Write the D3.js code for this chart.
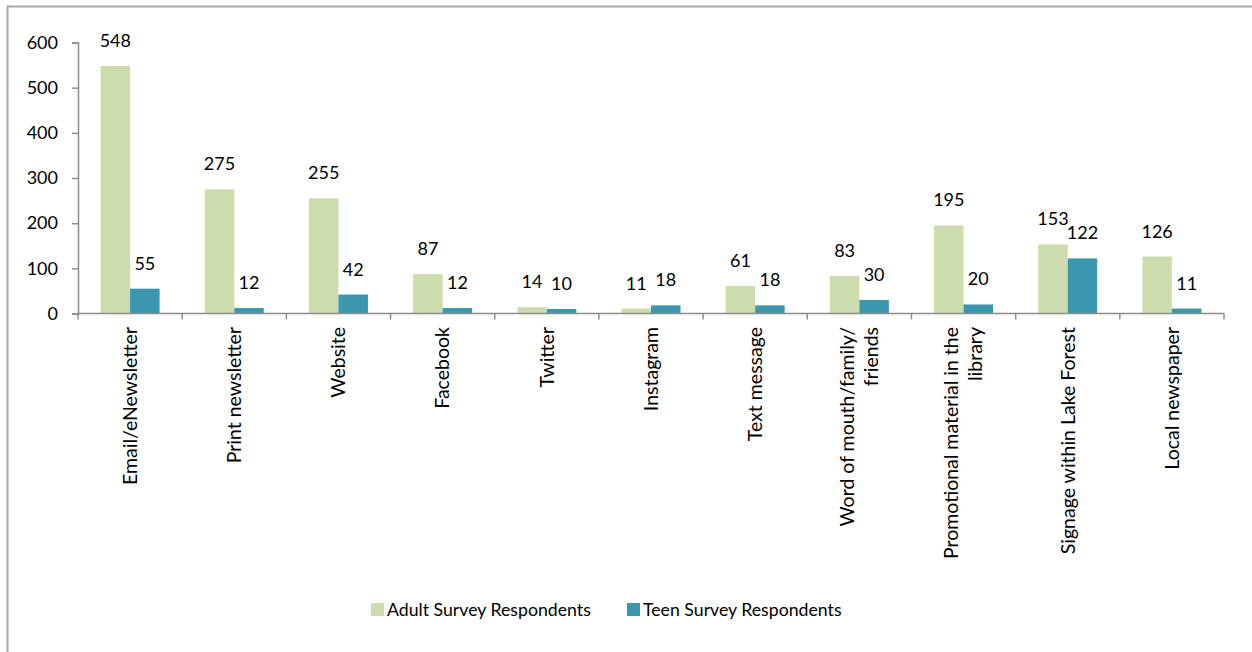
<!DOCTYPE html>
<html>
<head>
<meta charset="utf-8">
<script src="https://cdn.jsdelivr.net/npm/d3@7"></script>
<style>
  html, body { margin: 0; padding: 0; background: #fff; }
  svg { display: block; }
  text { font-family: Lato, "Open Sans", sans-serif; fill: #000; }
</style>
</head>
<body>
<svg id="chart" width="1252" height="652"></svg>
<script>
// Where respondents hear about library news
const categories = [
  "Email/eNewsletter",
  "Print newsletter",
  "Website",
  "Facebook",
  "Twitter",
  "Instagram",
  "Text message",
  "Word of mouth/family/\nfriends",
  "Promotional material in the\nlibrary",
  "Signage within Lake Forest",
  "Local newspaper"
];
const adultValues = [548, 275, 255, 87, 14, 11, 61, 83, 195, 153, 126];
const teenValues  = [55, 12, 42, 12, 10, 18, 18, 30, 20, 122, 11];
const seriesNames = ["Adult Survey Respondents", "Teen Survey Respondents"];
const seriesColors = ["#cddcac", "#3b97ad"];
const yTicks = [0, 100, 200, 300, 400, 500, 600];

const FONT = "Lato, 'Open Sans', sans-serif";
const FS = "18px";

const svg = d3.select("#chart");

// outer chart frame
svg.append("rect")
  .attr("x", 7.5).attr("y", 6.5)
  .attr("width", 1260).attr("height", 660)
  .attr("fill", "none")
  .attr("stroke", "#a6a6a6")
  .attr("stroke-width", 2);

const plot = { left: 78, right: 1224, top: 42.5, bottom: 313.5 };

const x = d3.scaleBand()
  .domain(d3.range(categories.length))
  .range([plot.left, plot.right])
  .paddingInner(0).paddingOuter(0);

const y = d3.scaleLinear()
  .domain([0, 600])
  .range([plot.bottom, plot.top]);

const inner = d3.scaleBand()
  .domain([0, 1])
  .range([0, x.bandwidth()])
  .paddingOuter(0.766)
  .paddingInner(0);

const series = [adultValues, teenValues];

// bars
series.forEach((vals, s) => {
  svg.append("g")
    .selectAll("rect")
    .data(vals)
    .join("rect")
    .attr("x", (d, i) => x(i) + inner(s))
    .attr("width", inner.bandwidth())
    .attr("y", d => y(d))
    .attr("height", d => y(0) - y(d))
    .attr("fill", seriesColors[s]);
});

// value labels
series.forEach((vals, s) => {
  svg.append("g")
    .selectAll("text")
    .data(vals)
    .join("text")
    .attr("x", (d, i) => x(i) + inner(s) + inner.bandwidth() / 2)
    .attr("y", d => y(d) - 19)
    .attr("text-anchor", "middle")
    .style("font-size", FS)
    .text(d => d);
});

// y axis
const yAxis = d3.axisLeft(y).tickValues(yTicks).tickSize(6).tickPadding(14);
const gy = svg.append("g")
  .attr("transform", `translate(${plot.left},0)`)
  .call(yAxis);
gy.select(".domain").attr("stroke", "#8c8c8c").attr("stroke-width", 1.5);
gy.selectAll(".tick line").attr("stroke", "#8c8c8c").attr("stroke-width", 1.5);
gy.selectAll(".tick text")
  .style("font-size", FS)
  .style("font-family", FONT)
  .attr("fill", "#000");

// x axis: baseline with ticks at category boundaries
const boundaries = d3.range(categories.length + 1).map(i =>
  i < categories.length ? x(i) : x(categories.length - 1) + x.bandwidth());
svg.append("line")
  .attr("x1", plot.left).attr("x2", plot.right)
  .attr("y1", plot.bottom).attr("y2", plot.bottom)
  .attr("stroke", "#8c8c8c").attr("stroke-width", 1.5);
svg.append("g")
  .selectAll("line")
  .data(boundaries)
  .join("line")
  .attr("x1", d => d).attr("x2", d => d)
  .attr("y1", plot.bottom).attr("y2", plot.bottom + 6)
  .attr("stroke", "#8c8c8c").attr("stroke-width", 1.5);

// rotated category labels
const lineH = 24;
const labels = svg.append("g")
  .selectAll("text")
  .data(categories)
  .join("text")
  .attr("transform", (d, i) =>
    `translate(${x(i) + x.bandwidth() / 2},327) rotate(-90)`)
  .attr("text-anchor", "end")
  .style("font-size", "19.5px");
labels.each(function(d) {
  const lines = d.split("\n");
  const n = lines.length;
  d3.select(this).selectAll("tspan")
    .data(lines)
    .join("tspan")
    .attr("x", 0)
    .attr("y", (l, k) => (k - (n - 1) / 2) * lineH)
    .attr("dy", "0.35em")
    .text(l => l);
});

// legend
const legend = svg.append("g").attr("transform", "translate(371,603)");
const legendX = [0, 256];
seriesNames.forEach((name, s) => {
  const g = legend.append("g").attr("transform", `translate(${legendX[s]},0)`);
  g.append("rect").attr("width", 13).attr("height", 13).attr("fill", seriesColors[s]);
  g.append("text")
    .attr("x", 16).attr("y", 7)
    .attr("dy", "0.35em")
    .style("font-size", "17.7px")
    .text(name);
});
</script>
</body>
</html>
